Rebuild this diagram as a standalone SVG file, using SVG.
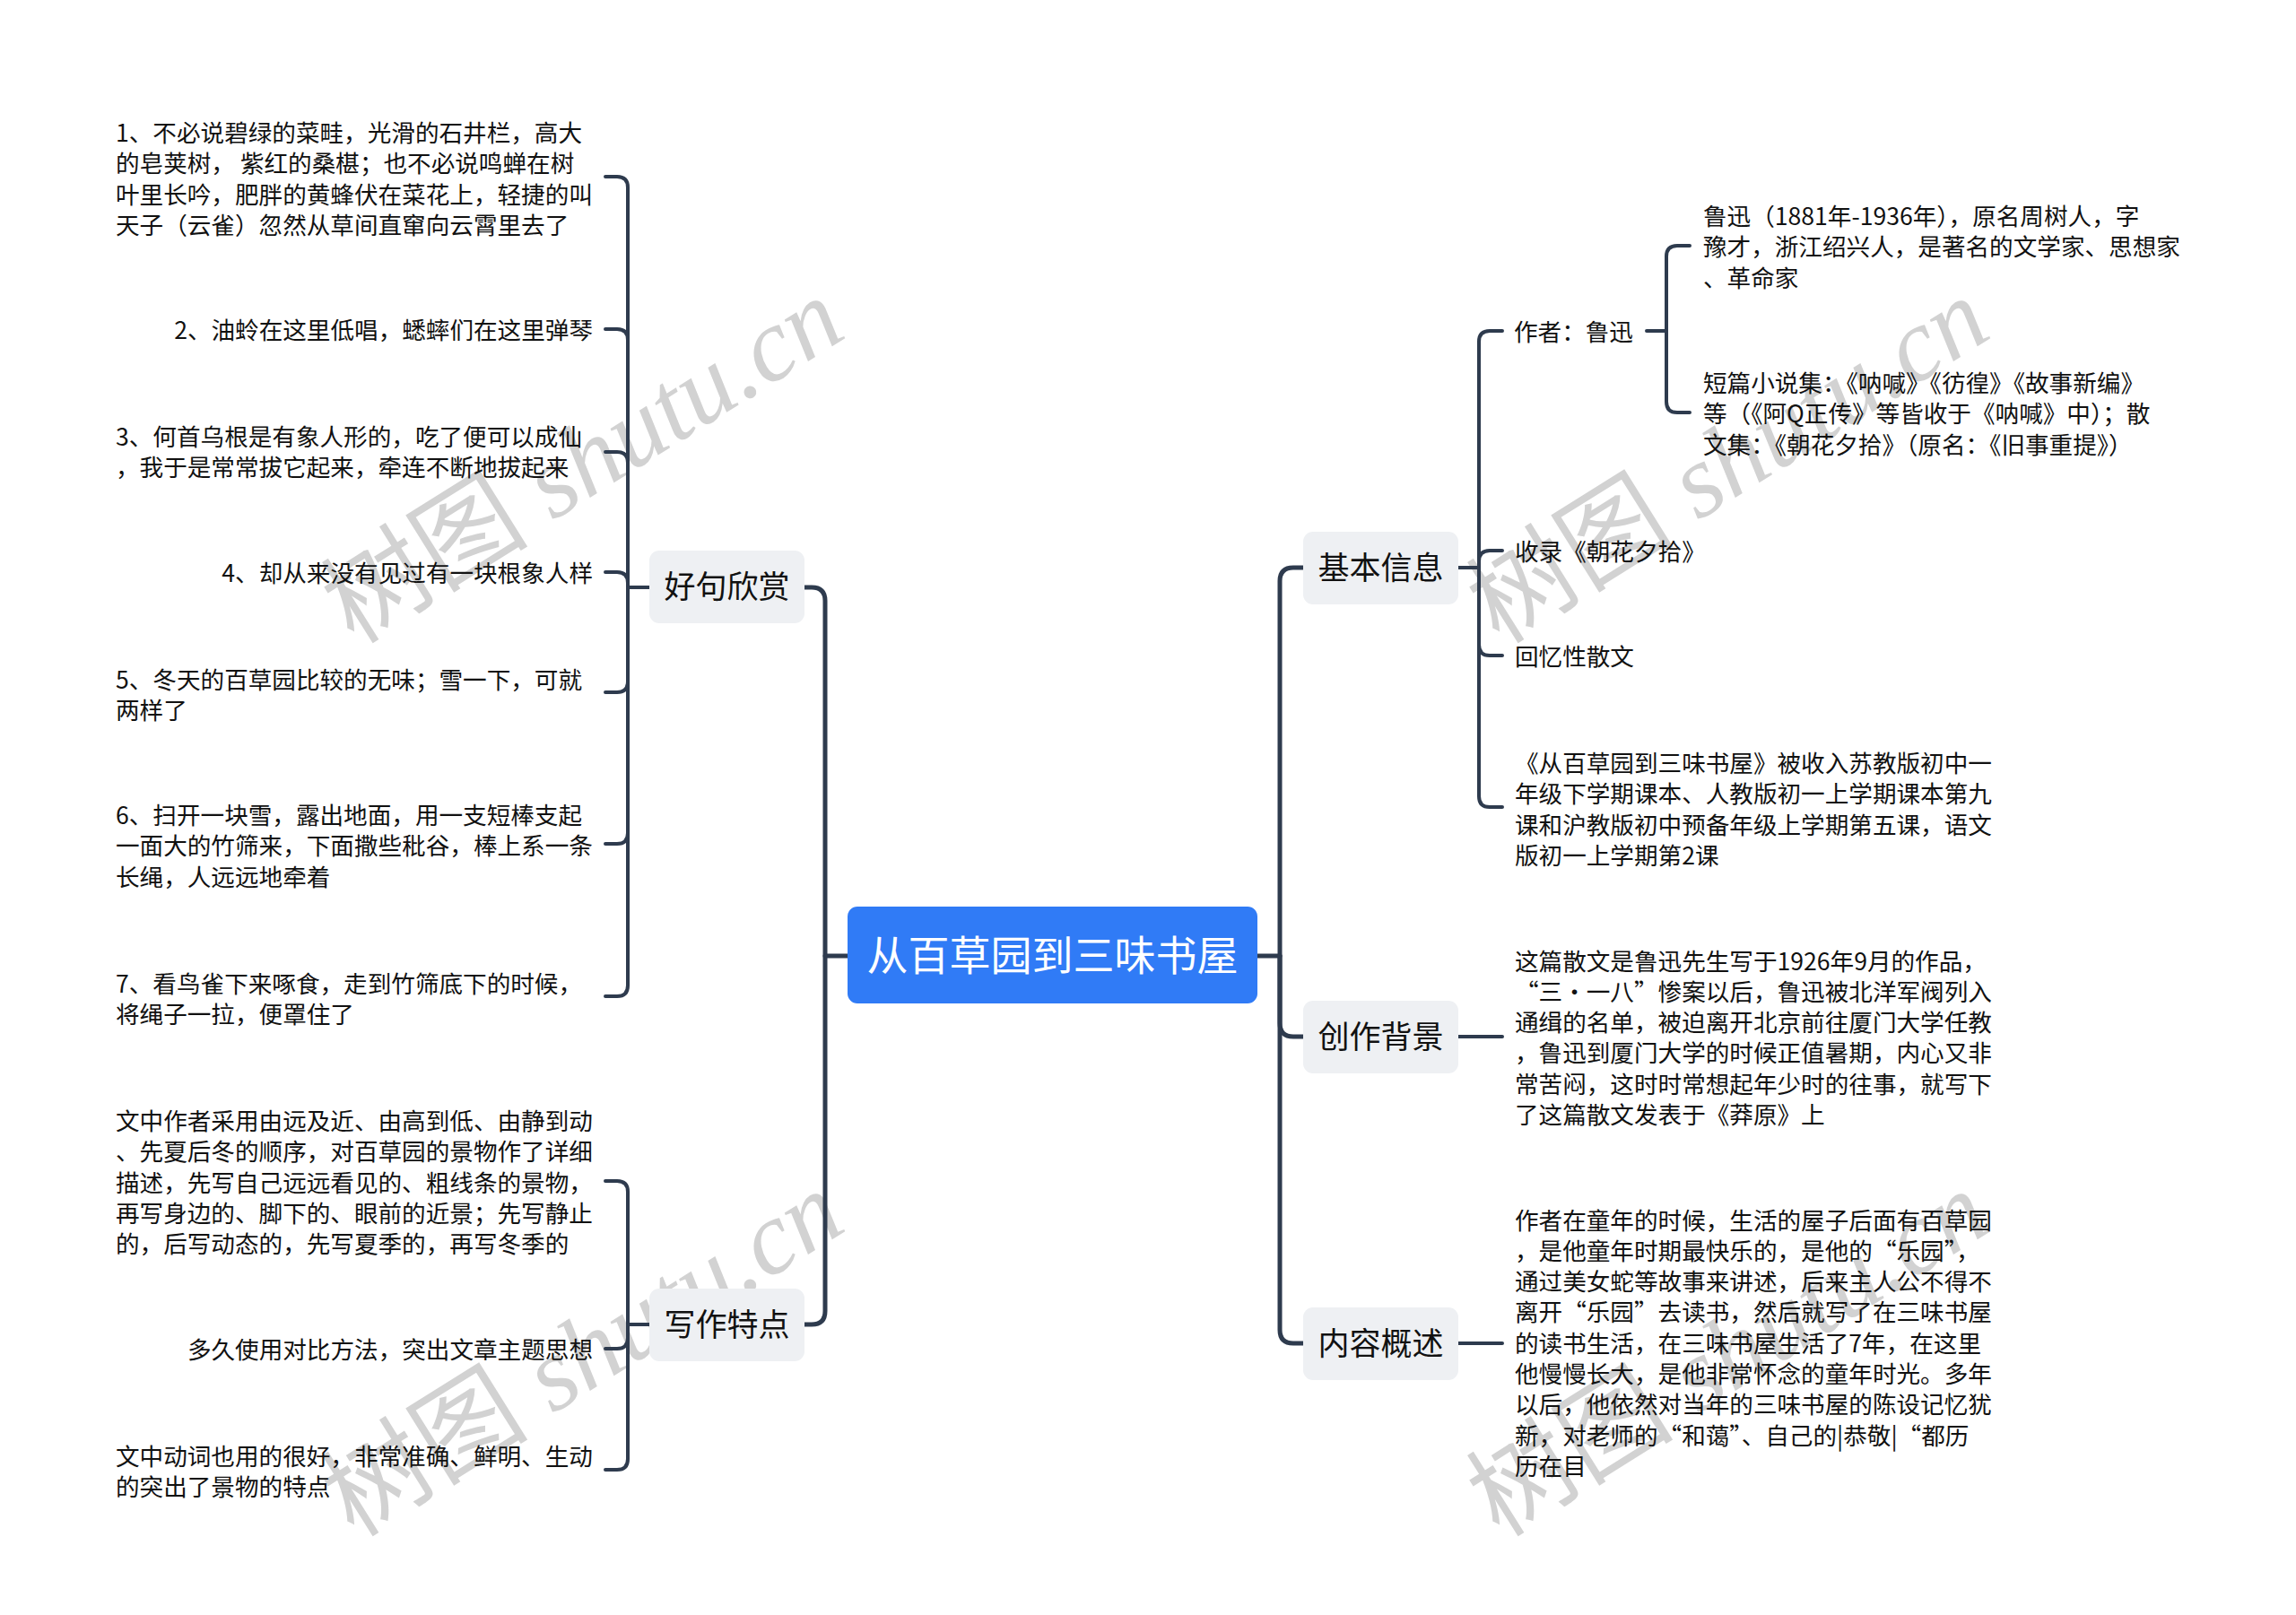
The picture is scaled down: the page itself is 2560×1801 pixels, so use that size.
<svg xmlns="http://www.w3.org/2000/svg" width="2560" height="1801" viewBox="0 0 2560 1801">
<style>
.c{fill:none;stroke:#2e3b4e;stroke-width:4;stroke-linecap:round;stroke-linejoin:round}
.c1{stroke-width:5}
.t{font-family:"Noto Sans CJK SC","Liberation Sans",sans-serif;font-size:26.6px;fill:#111}
.b{font-family:"Noto Sans CJK SC","Liberation Sans",sans-serif;font-size:35px;fill:#111;text-anchor:middle}
.br{fill:#eef0f3}
.wm{font-family:"Liberation Serif","Noto Sans CJK SC",serif;font-size:116px;fill:#d2d2d2;text-anchor:middle;dominant-baseline:central}
</style>
<rect width="2560" height="1801" fill="#ffffff"/>
<g id="watermarks">
<text class="wm" transform="translate(650 514) rotate(-32)">树图 <tspan font-style="italic">shutu.cn</tspan></text>
<text class="wm" transform="translate(650 1510) rotate(-32)">树图 <tspan font-style="italic">shutu.cn</tspan></text>
<text class="wm" transform="translate(1927 514) rotate(-32)">树图 <tspan font-style="italic">shutu.cn</tspan></text>
<text class="wm" transform="translate(1927 1510) rotate(-32)">树图 <tspan font-style="italic">shutu.cn</tspan></text>
</g>
<g id="connectors">
<path class="c c1" d="M945 1066H920V670Q920 655 905 655H897"/>
<path class="c c1" d="M920 1066V1462Q920 1477 905 1477H897"/>
<path class="c c1" d="M1402 1066H1427V648Q1427 633 1442 633H1453"/>
<path class="c c1" d="M1427 1066V1141Q1427 1156 1442 1156H1453"/>
<path class="c c1" d="M1427 1066V1483Q1427 1498 1442 1498H1453"/>
<path class="c" d="M724 655H700V209Q700 197 688 197H675"/>
<path class="c" d="M700 655V379Q700 367 688 367H675"/>
<path class="c" d="M700 655V516Q700 504 688 504H675"/>
<path class="c" d="M700 655V650Q700 638 688 638H675"/>
<path class="c" d="M700 655V760Q700 772 688 772H675"/>
<path class="c" d="M700 655V929Q700 941 688 941H675"/>
<path class="c" d="M700 655V1099Q700 1111 688 1111H675"/>
<path class="c" d="M724 1477H700V1329Q700 1317 688 1317H675"/>
<path class="c" d="M700 1477V1492Q700 1504 688 1504H675"/>
<path class="c" d="M700 1477V1627Q700 1639 688 1639H675"/>
<path class="c" d="M1626 633H1649V381Q1649 369 1661 369H1675"/>
<path class="c" d="M1649 633V626Q1649 614 1661 614H1675"/>
<path class="c" d="M1649 633V719Q1649 731 1661 731H1675"/>
<path class="c" d="M1649 633V888Q1649 900 1661 900H1675"/>
<path class="c" d="M1836 369H1858V286Q1858 274 1870 274H1884"/>
<path class="c" d="M1858 369V448Q1858 460 1870 460H1884"/>
<path class="c" d="M1626 1156H1675"/>
<path class="c" d="M1626 1498H1675"/>
</g>
<g id="root">
<rect x="945" y="1011" width="457" height="108" rx="11" fill="#307bf6"/>
<text x="1173.5" y="1082" font-family="Noto Sans CJK SC, Liberation Sans, sans-serif" font-size="46" fill="#ffffff" text-anchor="middle">从百草园到三味书屋</text>
</g>
<g id="n-haoju">
<rect class="br" x="724" y="614" width="173" height="81" rx="11"/>
<text class="b" x="810.5" y="667">好句欣赏</text>
</g>
<g id="n-xiezuo">
<rect class="br" x="724" y="1437" width="173" height="81" rx="11"/>
<text class="b" x="810.5" y="1490">写作特点</text>
</g>
<g id="n-jiben">
<rect class="br" x="1453" y="593" width="173" height="81" rx="11"/>
<text class="b" x="1539.5" y="646">基本信息</text>
</g>
<g id="n-chuangzuo">
<rect class="br" x="1453" y="1116" width="173" height="81" rx="11"/>
<text class="b" x="1539.5" y="1169">创作背景</text>
</g>
<g id="n-neirong">
<rect class="br" x="1453" y="1458" width="173" height="81" rx="11"/>
<text class="b" x="1539.5" y="1511">内容概述</text>
</g>
<g id="h1"><text class="t" x="129" y="158"><tspan x="129">1、不必说碧绿的菜畦，光滑的石井栏，高大</tspan><tspan x="129" dy="34.3">的皂荚树， 紫红的桑椹；也不必说鸣蝉在树</tspan><tspan x="129" dy="34.3">叶里长吟，肥胖的黄蜂伏在菜花上，轻捷的叫</tspan><tspan x="129" dy="34.3">天子（云雀）忽然从草间直窜向云霄里去了</tspan></text></g>
<g id="h2"><text class="t" x="661" y="377.5" text-anchor="end">2、油蛉在这里低唱，蟋蟀们在这里弹琴</text></g>
<g id="h3"><text class="t" x="129" y="497"><tspan x="129">3、何首乌根是有象人形的，吃了便可以成仙</tspan><tspan x="129" dy="34.3">，我于是常常拔它起来，牵连不断地拔起来</tspan></text></g>
<g id="h4"><text class="t" x="661" y="649" text-anchor="end">4、却从来没有见过有一块根象人样</text></g>
<g id="h5"><text class="t" x="129" y="768"><tspan x="129">5、冬天的百草园比较的无味；雪一下，可就</tspan><tspan x="129" dy="34.3">两样了</tspan></text></g>
<g id="h6"><text class="t" x="129" y="919"><tspan x="129">6、扫开一块雪，露出地面，用一支短棒支起</tspan><tspan x="129" dy="34.3">一面大的竹筛来，下面撒些秕谷，棒上系一条</tspan><tspan x="129" dy="34.3">长绳，人远远地牵着</tspan></text></g>
<g id="h7"><text class="t" x="129" y="1107"><tspan x="129">7、看鸟雀下来啄食，走到竹筛底下的时候，</tspan><tspan x="129" dy="34.3">将绳子一拉，便罩住了</tspan></text></g>
<g id="x1"><text class="t" x="129" y="1260"><tspan x="129">文中作者采用由远及近、由高到低、由静到动</tspan><tspan x="129" dy="34.3">、先夏后冬的顺序，对百草园的景物作了详细</tspan><tspan x="129" dy="34.3">描述，先写自己远远看见的、粗线条的景物，</tspan><tspan x="129" dy="34.3">再写身边的、脚下的、眼前的近景；先写静止</tspan><tspan x="129" dy="34.3">的，后写动态的，先写夏季的，再写冬季的</tspan></text></g>
<g id="x2"><text class="t" x="661" y="1515" text-anchor="end">多久使用对比方法，突出文章主题思想</text></g>
<g id="x3"><text class="t" x="129" y="1634"><tspan x="129">文中动词也用的很好，非常准确、鲜明、生动</tspan><tspan x="129" dy="34.3">的突出了景物的特点</tspan></text></g>
<g id="j-author"><text class="t" x="1688" y="379.5">作者：鲁迅</text></g>
<g id="j-luxun"><text class="t" x="1899" y="251"><tspan x="1899">鲁迅（1881年-1936年），原名周树人，字</tspan><tspan x="1899" dy="34.3">豫才，浙江绍兴人，是著名的文学家、思想家</tspan><tspan x="1899" dy="34.3">、革命家</tspan></text></g>
<g id="j-works"><text class="t" x="1899" y="437"><tspan x="1899">短篇小说集：《呐喊》《彷徨》《故事新编》</tspan><tspan x="1899" dy="34.3">等（《阿Q正传》等皆收于《呐喊》中）；散</tspan><tspan x="1899" dy="34.3">文集：《朝花夕拾》（原名：《旧事重提》）</tspan></text></g>
<g id="j-shoulu"><text class="t" x="1689" y="624.5">收录《朝花夕拾》</text></g>
<g id="j-huiyi"><text class="t" x="1689" y="741.5">回忆性散文</text></g>
<g id="j-textbook"><text class="t" x="1689" y="861"><tspan x="1689">《从百草园到三味书屋》被收入苏教版初中一</tspan><tspan x="1689" dy="34.3">年级下学期课本、人教版初一上学期课本第九</tspan><tspan x="1689" dy="34.3">课和沪教版初中预备年级上学期第五课，语文</tspan><tspan x="1689" dy="34.3">版初一上学期第2课</tspan></text></g>
<g id="c-text"><text class="t" x="1689" y="1081.5"><tspan x="1689">这篇散文是鲁迅先生写于1926年9月的作品，</tspan><tspan x="1689" dy="34.3">“三·一八”惨案以后，鲁迅被北洋军阀列入</tspan><tspan x="1689" dy="34.3">通缉的名单，被迫离开北京前往厦门大学任教</tspan><tspan x="1689" dy="34.3">，鲁迅到厦门大学的时候正值暑期，内心又非</tspan><tspan x="1689" dy="34.3">常苦闷，这时时常想起年少时的往事，就写下</tspan><tspan x="1689" dy="34.3">了这篇散文发表于《莽原》上</tspan></text></g>
<g id="n-text"><text class="t" x="1689" y="1370.5"><tspan x="1689">作者在童年的时候，生活的屋子后面有百草园</tspan><tspan x="1689" dy="34.3">，是他童年时期最快乐的，是他的“乐园”，</tspan><tspan x="1689" dy="34.3">通过美女蛇等故事来讲述，后来主人公不得不</tspan><tspan x="1689" dy="34.3">离开“乐园”去读书，然后就写了在三味书屋</tspan><tspan x="1689" dy="34.3">的读书生活，在三味书屋生活了7年，在这里</tspan><tspan x="1689" dy="34.3">他慢慢长大，是他非常怀念的童年时光。多年</tspan><tspan x="1689" dy="34.3">以后，他依然对当年的三味书屋的陈设记忆犹</tspan><tspan x="1689" dy="34.3">新，对老师的“和蔼”、自己的|恭敬|“都历</tspan><tspan x="1689" dy="34.3">历在目</tspan></text></g>
</svg>
